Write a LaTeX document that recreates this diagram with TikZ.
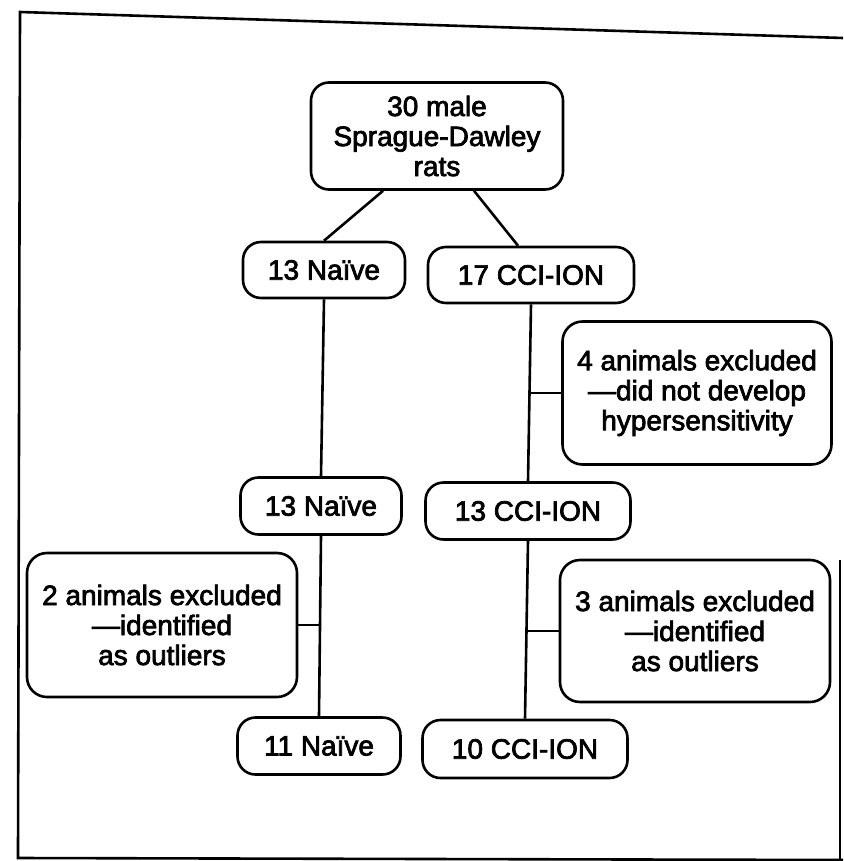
\documentclass[tikz,border=0pt]{standalone}
\usepackage{fontspec}
\setmainfont{Liberation Sans}
\newfontfamily\thickfont[FakeBold=2.6]{Liberation Sans}
\begin{document}
\begin{tikzpicture}[x=1pt,y=-1pt,
  box/.style={draw, line width=2.6pt, rounded corners=18pt, align=center, inner sep=0pt,
    font=\thickfont\fontsize{28}{30}\selectfont},
  link/.style={line width=2.6pt}]
\useasboundingbox (0,0) rectangle (843,861);
% frame
\draw[line width=2.6pt] (843,38) -- (20,12) -- (18,858) -- (843,860);
\draw[line width=2.6pt] (840,560) -- (840,860);
% nodes
\node[box, minimum width=252pt, minimum height=107pt] (top) at (437,136) {30 male\\Sprague-Dawley\\rats};
\node[box, minimum width=162pt, minimum height=56pt] (n1) at (324,270) {13 Naïve};
\node[box, minimum width=206pt, minimum height=56pt] (c1) at (531,275) {17 CCI-ION};
\node[box, minimum width=269pt, minimum height=143pt, rounded corners=20pt] (ex4) at (697,393) {4 animals excluded\\—did not develop\\hypersensitivity};
\node[box, minimum width=161pt, minimum height=57pt] (n2) at (321,506) {13 Naïve};
\node[box, minimum width=205pt, minimum height=57pt] (c2) at (528,511) {13 CCI-ION};
\node[box, minimum width=270pt, minimum height=144pt, rounded corners=20pt] (ex2) at (162,625) {2 animals excluded\\—identified\\as outliers};
\node[box, minimum width=270pt, minimum height=142pt, rounded corners=20pt] (ex3) at (695,631) {3 animals excluded\\—identified\\as outliers};
\node[box, minimum width=163pt, minimum height=57pt] (n3) at (319,746) {11 Naïve};
\node[box, minimum width=205pt, minimum height=58pt] (c3) at (525,749) {10 CCI-ION};
% connectors
\draw[link] (top.south) ++(-54,0) coordinate (t1);
\draw[link] (t1) -- (n1.north);
\draw[link] (top.south) ++(37,0) coordinate (t2);
\draw[link] (t2) -- ([xshift=-13pt]c1.north);
\draw[link] (n1.south) -- (n2.north);
\draw[link] (n2.south) -- (n3.north);
\draw[link] (c1.south) -- (c2.north);
\draw[link] (c2.south) -- (c3.north);
\draw[link] (ex4.west) -- (ex4.west -| c1.south);
\draw[link] (ex2.east) -- (ex2.east -| n2.south);
\draw[link] (ex3.west) -- (ex3.west -| c2.south);
\end{tikzpicture}
\end{document}
